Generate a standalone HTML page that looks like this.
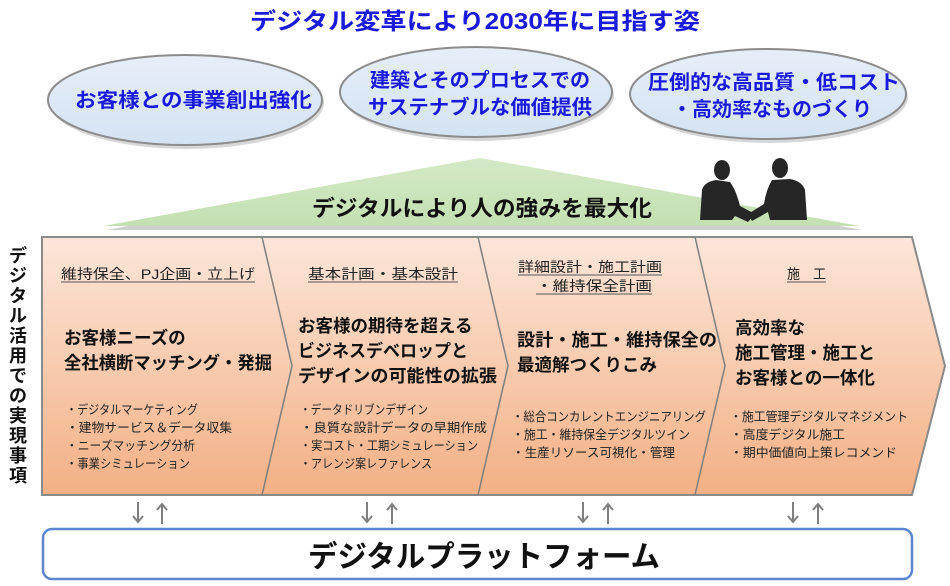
<!DOCTYPE html>
<html><head><meta charset="utf-8"><style>
html,body{margin:0;padding:0;background:#fff;width:950px;height:586px;overflow:hidden}
svg{display:block}
text{font-family:"Liberation Sans","Noto Sans CJK JP",sans-serif}
</style></head><body>
<svg width="950" height="586" viewBox="0 0 950 586" xmlns="http://www.w3.org/2000/svg">
<defs>
<linearGradient id="ell" x1="0" y1="0" x2="0" y2="1"><stop offset="0" stop-color="#e6eef8"/><stop offset="1" stop-color="#d4e3f3"/></linearGradient>
<linearGradient id="band" x1="0" y1="0" x2="0" y2="1"><stop offset="0" stop-color="#fce6da"/><stop offset="1" stop-color="#f3b084"/></linearGradient>
<linearGradient id="grn" x1="0" y1="0" x2="0" y2="1"><stop offset="0" stop-color="#d4e9c6"/><stop offset="1" stop-color="#c4e0b2"/></linearGradient>
</defs>
<text x="250" y="29" textLength="450" lengthAdjust="spacingAndGlyphs" font-size="23" font-weight="bold" fill="#1a1adc">デジタル変革により2030年に目指す姿</text>
<ellipse cx="187" cy="103" rx="137" ry="46" fill="#b0b0b0" opacity="0.5"/>
<ellipse cx="185" cy="100" rx="137" ry="45" fill="url(#ell)" stroke="#8c8c8c" stroke-width="2"/>
<ellipse cx="478" cy="95" rx="136" ry="46" fill="#b0b0b0" opacity="0.5"/>
<ellipse cx="476" cy="92" rx="136" ry="45" fill="url(#ell)" stroke="#8c8c8c" stroke-width="2"/>
<ellipse cx="770" cy="97" rx="138" ry="46" fill="#b0b0b0" opacity="0.5"/>
<ellipse cx="768" cy="94" rx="138" ry="45" fill="url(#ell)" stroke="#8c8c8c" stroke-width="2"/>
<g font-size="20" font-weight="bold" fill="#1a1adc" lengthAdjust="spacingAndGlyphs">
<text x="75" y="107" textLength="237" lengthAdjust="spacingAndGlyphs">お客様との事業創出強化</text>
<text x="370" y="87" textLength="220" lengthAdjust="spacingAndGlyphs">建築とそのプロセスでの</text>
<text x="368" y="114" textLength="224" lengthAdjust="spacingAndGlyphs">サステナブルな価値提供</text>
<text x="648" y="89" textLength="252" lengthAdjust="spacingAndGlyphs">圧倒的な高品質・低コスト</text>
<text x="672" y="116" textLength="200" lengthAdjust="spacingAndGlyphs">・高効率なものづくり</text>
</g>
<polygon points="106,230 482,162 862,230" fill="#cfcfcf"/>
<polygon points="103,226 480,158 860,226" fill="url(#grn)"/>
<text x="312" y="216" textLength="340" lengthAdjust="spacingAndGlyphs" font-size="22" font-weight="bold" fill="#111">デジタルにより人の強みを最大化</text>
<g fill="#262626">
<ellipse cx="722" cy="170" rx="8" ry="10"/>
<path d="M700 220 L702 190 Q704 182 716 180 L730 182 Q736 190 740 206 L755 214 L748 222 L735 216 L732 220 Z"/>
<ellipse cx="780" cy="168" rx="8" ry="10"/>
<path d="M807 220 L805 190 Q802 181 790 179 L772 180 Q766 190 764 204 L748 214 L752 221 L768 212 L770 220 Z"/>
</g>
<polygon points="42,237 912,237 945,366 912,495 42,495" fill="url(#band)" stroke="#8a8a8a" stroke-width="2"/>
<g fill="none" stroke="#7f7f7f" stroke-width="1.5">
<polyline points="262,237 292,366 262,495"/>
<polyline points="478,237 508,366 478,495"/>
<polyline points="695,237 725,366 695,495"/>
</g>
<g font-size="18" font-weight="bold" fill="#111" text-anchor="middle">
<text x="18" y="262">デ</text><text x="18" y="282">ジ</text><text x="18" y="302">タ</text><text x="18" y="322">ル</text><text x="18" y="342">活</text><text x="18" y="362">用</text><text x="18" y="382">で</text><text x="18" y="402">の</text><text x="18" y="422">実</text><text x="18" y="442">現</text><text x="18" y="462">事</text><text x="18" y="482">項</text>
</g>
<g font-size="14" fill="#222">
<text x="61" y="279" textLength="194" lengthAdjust="spacingAndGlyphs">維持保全、PJ企画・立上げ</text>
<text x="308" y="279" textLength="150" lengthAdjust="spacingAndGlyphs">基本計画・基本設計</text>
<text x="518" y="272" textLength="144" lengthAdjust="spacingAndGlyphs">詳細設計・施工計画</text>
<text x="536" y="291" textLength="116" lengthAdjust="spacingAndGlyphs">・維持保全計画</text>
<text x="787" y="279" textLength="39" lengthAdjust="spacingAndGlyphs">施　工</text>
</g>
<g stroke="#555" stroke-width="1">
<line x1="61" y1="282" x2="255" y2="282"/><line x1="308" y1="282" x2="458" y2="282"/>
<line x1="518" y1="275" x2="662" y2="275"/><line x1="536" y1="294" x2="652" y2="294"/>
<line x1="787" y1="282" x2="826" y2="282"/>
</g>
<g font-size="17.5" font-weight="bold" fill="#111">
<text x="64" y="344">お客様ニーズの</text>
<text x="64" y="369" textLength="208" lengthAdjust="spacingAndGlyphs">全社横断マッチング・発掘</text>
<text x="298" y="332">お客様の期待を超える</text>
<text x="298" y="357" textLength="170" lengthAdjust="spacingAndGlyphs">ビジネスデベロップと</text>
<text x="298" y="382" textLength="199" lengthAdjust="spacingAndGlyphs">デザインの可能性の拡張</text>
<text x="517" y="346" textLength="200" lengthAdjust="spacingAndGlyphs">設計・施工・維持保全の</text>
<text x="517" y="371">最適解つくりこみ</text>
<text x="735" y="334">高効率な</text>
<text x="735" y="359">施工管理・施工と</text>
<text x="735" y="384">お客様との一体化</text>
</g>
<g font-size="12.5" fill="#222">
<text x="66" y="414" textLength="132" lengthAdjust="spacingAndGlyphs">・デジタルマーケティング</text>
<text x="66" y="432" textLength="166" lengthAdjust="spacingAndGlyphs">・建物サービス＆データ収集</text>
<text x="66" y="450" textLength="129" lengthAdjust="spacingAndGlyphs">・ニーズマッチング分析</text>
<text x="66" y="468" textLength="124" lengthAdjust="spacingAndGlyphs">・事業シミュレーション</text>
<text x="300" y="414" textLength="128" lengthAdjust="spacingAndGlyphs">・データドリブンデザイン</text>
<text x="300" y="432" textLength="187" lengthAdjust="spacingAndGlyphs">・良質な設計データの早期作成</text>
<text x="300" y="450" textLength="178" lengthAdjust="spacingAndGlyphs">・実コスト・工期シミュレーション</text>
<text x="300" y="468" textLength="132" lengthAdjust="spacingAndGlyphs">・アレンジ案レファレンス</text>
<text x="512" y="421" textLength="194" lengthAdjust="spacingAndGlyphs">・総合コンカレントエンジニアリング</text>
<text x="512" y="439" textLength="178" lengthAdjust="spacingAndGlyphs">・施工・維持保全デジタルツイン</text>
<text x="512" y="457" textLength="163" lengthAdjust="spacingAndGlyphs">・生産リソース可視化・管理</text>
<text x="730" y="421" textLength="178" lengthAdjust="spacingAndGlyphs">・施工管理デジタルマネジメント</text>
<text x="730" y="439" textLength="115" lengthAdjust="spacingAndGlyphs">・高度デジタル施工</text>
<text x="730" y="457" textLength="167" lengthAdjust="spacingAndGlyphs">・期中価値向上策レコメンド</text>
</g>
<g stroke="#7f7f7f" stroke-width="2" fill="none">
<path d="M138 502 V522 M133 516 L138 522 L143 516 M162 524 V504 M157 510 L162 504 L167 510"/>
<path d="M367 502 V522 M362 516 L367 522 L372 516 M392 524 V504 M387 510 L392 504 L397 510"/>
<path d="M583 502 V522 M578 516 L583 522 L588 516 M608 524 V504 M603 510 L608 504 L613 510"/>
<path d="M793 502 V522 M788 516 L793 522 L798 516 M818 524 V504 M813 510 L818 504 L823 510"/>
</g>
<rect x="43" y="529" width="869" height="50" rx="9" fill="#fff" stroke="#5b86cf" stroke-width="2.5"/>
<text x="308" y="567" textLength="352" lengthAdjust="spacingAndGlyphs" font-size="30" font-weight="bold" fill="#111">デジタルプラットフォーム</text>
</svg>
</body></html>
